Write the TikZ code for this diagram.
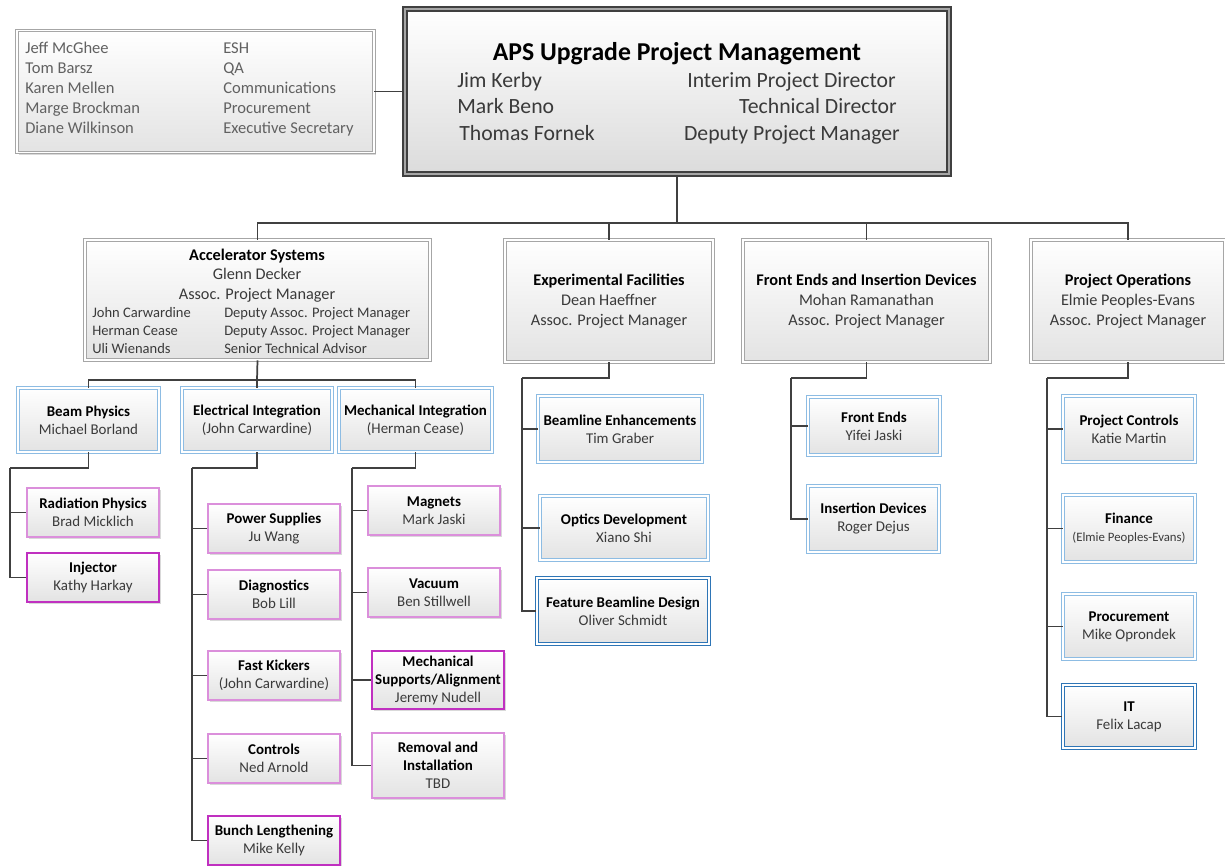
\documentclass[tikz,border=0pt]{standalone}
\usepackage{fontspec}
\setmainfont{Carlito}
\usepackage{xcolor}
\usepackage{tikz}
\usetikzlibrary{shadows}

\definecolor{linegray}{HTML}{404040}
\definecolor{boxgray}{HTML}{A6A6A6}
\definecolor{boxblue}{HTML}{8DBCE3}
\definecolor{deepblue}{HTML}{2E75B6}
\definecolor{boxpink}{HTML}{DB8FDB}
\definecolor{deeppink}{HTML}{C030C0}
\definecolor{txtgray}{HTML}{3A3A3A}

\newcommand{\boxhead}[1]{{\bfseries\color{black}#1}}

\tikzset{
  conn/.style={draw=linegray, line width=1.3pt},
  card/.style={top color=white, bottom color=black!11, inner sep=0pt, align=center, text=txtgray,
    font=\fontsize{11.2}{13.5}\selectfont,
    drop shadow={shadow xshift=1.5pt, shadow yshift=-1.5pt, fill=black, opacity=0.15}},
  graycard/.style={card, draw=boxgray, double=white, double distance=1.2pt, line width=0.6pt,
    font=\fontsize{12.2}{14.8}\selectfont},
  bluecard/.style={card, draw=boxblue, double=white, double distance=1.2pt, line width=0.7pt},
  deepbluecard/.style={card, draw=deepblue, double=white, double distance=1.2pt, line width=0.8pt},
  pinkcard/.style={card, draw=boxpink, line width=0.9pt},
  deeppinkcard/.style={card, draw=deeppink, line width=1.1pt},
  sz/.style 2 args={minimum width=#1*0.75pt, minimum height=#2*0.75pt},
  txt/.style={inner sep=0pt, text=txtgray},
}

\begin{document}
\begin{tikzpicture}[x=0.75pt, y=-0.75pt]

% background and page size
\fill[white] (0,0) rectangle (1225,865);
\useasboundingbox (0,0) rectangle (1225,865);

% Top level
\node[card, sz={544}{165}, draw=black!75, double=black!35, double distance=1.2pt, line width=1.3pt,
  bottom color=black!14] (apm) at (677,91.5) {};
\node[txt, anchor=base, text=black, font=\fontsize{19.3}{22}\selectfont\bfseries] (apmT) at (677,60.5) {APS Upgrade Project Management};
\node[txt, anchor=base west, font=\fontsize{16.3}{18}\selectfont] (kerby) at (457,87) {Jim Kerby};
\node[txt, anchor=base west, font=\fontsize{16.3}{18}\selectfont] (beno) at (457,113) {Mark Beno};
\node[txt, anchor=base west, font=\fontsize{16.3}{18}\selectfont] (fornek) at (459,140) {Thomas Fornek};
\node[txt, anchor=base east, font=\fontsize{16.3}{18}\selectfont] (kerbyR) at (896,87) {Interim Project Director};
\node[txt, anchor=base east, font=\fontsize{16.3}{18}\selectfont] (benoR) at (897,113) {Technical Director};
\node[txt, anchor=base east, font=\fontsize{16.3}{18}\selectfont] (fornekR) at (900,140) {Deputy Project Manager};

% Staff box
\node[graycard, sz={357}{122}] (staff) at (195.5,91.5) {};
\foreach \who/\role [count=\i] in {Jeff McGhee/ESH, Tom Barsz/QA, Karen Mellen/Communications,
    Marge Brockman/Procurement, Diane Wilkinson/Executive Secretary}{
  \node[txt, text=black!62, anchor=base west, font=\fontsize{12.4}{13}\selectfont] (staffN\i) at (25,33.5+20*\i) {\who};
  \node[txt, text=black!62, anchor=base west, font=\fontsize{12.4}{13}\selectfont] (staffR\i) at (223,33.5+20*\i) {\role};
}
\draw[conn] (staff) -- (apm);

% Level 1
\node[graycard, sz={345}{120}] (acc) at (257.5,300) {};
\node[txt, anchor=base, font=\fontsize{12.2}{13}\selectfont] (accT) at (257,260.5) {\boxhead{Accelerator Systems}};
\node[txt, anchor=base, font=\fontsize{12.2}{13}\selectfont] (accN) at (257,279.5) {Glenn Decker};
\node[txt, anchor=base, font=\fontsize{12.2}{13}\selectfont] (accR) at (257,299.5) {Assoc. Project Manager};
\foreach \who/\role [count=\i] in {John Carwardine/Deputy Assoc. Project Manager,
    Herman Cease/Deputy Assoc. Project Manager, Uli Wienands/Senior Technical Advisor}{
  \node[txt, anchor=base west, font=\fontsize{10.9}{12}\selectfont] (accDN\i) at (92,299+18*\i) {\who};
  \node[txt, anchor=base west, font=\fontsize{10.9}{12}\selectfont] (accDR\i) at (224,299+18*\i) {\role};
}

\node[graycard, sz={208}{122}] (exp) at (609,301) {\boxhead{Experimental Facilities}\\Dean Haeffner\\Assoc. Project Manager};
\node[graycard, sz={247}{122}] (fe) at (866.5,301) {\boxhead{Front Ends and Insertion Devices}\\Mohan Ramanathan\\Assoc. Project Manager};
\node[graycard, sz={194}{122}] (ops) at (1128,301) {\boxhead{Project Operations}\\Elmie Peoples-Evans\\Assoc. Project Manager};

\coordinate (mainB) at (677,223);
\draw[conn] (apm.south) -- (mainB);
\draw[conn] (mainB) -| (acc.north);
\draw[conn] (mainB) -| (exp.north);
\draw[conn] (mainB) -| (fe.north);
\draw[conn] (mainB) -| (ops.north);

% Accelerator Systems groups
\node[bluecard, sz={141}{64}] (bp) at (88.5,420) {\boxhead{Beam Physics}\\Michael Borland};
\node[bluecard, sz={150}{64}] (ei) at (257,420) {\boxhead{Electrical Integration}\\(John Carwardine)};
\node[bluecard, sz={153}{64}] (mi) at (415.5,420) {\boxhead{Mechanical Integration}\\(Herman Cease)};

\coordinate (accB) at (257,380);
\draw[conn] (acc.south) -- (accB);
\draw[conn] (accB) -| (bp.north);
\draw[conn] (accB) -| (mi.north);
\draw[conn] (accB) -- (ei.north);

% Beam Physics
\node[pinkcard, sz={132}{49}] (rp) at (93,512.5) {\boxhead{Radiation Physics}\\Brad Micklich};
\node[deeppinkcard, sz={132}{49}] (inj) at (93,577.5) {\boxhead{Injector}\\Kathy Harkay};
\coordinate (bpT) at (10,468);
\draw[conn] (bp.south) |- (bpT);
\draw[conn] (bpT) |- (rp.west);
\draw[conn] (bpT) |- (inj.west);

% Electrical Integration
\node[pinkcard, sz={132}{49}] (ps) at (274,528.5) {\boxhead{Power Supplies}\\Ju Wang};
\node[pinkcard, sz={132}{49}] (dg) at (274,594.5) {\boxhead{Diagnostics}\\Bob Lill};
\node[pinkcard, sz={132}{49}] (fk) at (274,675.5) {\boxhead{Fast Kickers}\\(John Carwardine)};
\node[pinkcard, sz={132}{49}] (ctl) at (274,758.5) {\boxhead{Controls}\\Ned Arnold};
\node[deeppinkcard, sz={132}{49}] (bl) at (274,840.5) {\boxhead{Bunch Lengthening}\\Mike Kelly};
\coordinate (eiT) at (192,468);
\draw[conn] (ei.south) |- (eiT);
\draw[conn] (eiT) |- (ps.west);
\draw[conn] (eiT) |- (dg.west);
\draw[conn] (eiT) |- (fk.west);
\draw[conn] (eiT) |- (ctl.west);
\draw[conn] (eiT) |- (bl.west);

% Mechanical Integration
\node[pinkcard, sz={132}{49}] (mag) at (434,510.5) {\boxhead{Magnets}\\Mark Jaski};
\node[pinkcard, sz={132}{49}] (vac) at (434,592.5) {\boxhead{Vacuum}\\Ben Stillwell};
\node[deeppinkcard, sz={132}{58}] (msa) at (438,680) {\boxhead{Mechanical}\\\boxhead{Supports/Alignment}\\Jeremy Nudell};
\node[pinkcard, sz={132}{65}] (ri) at (438,765.5) {\boxhead{Removal and}\\\boxhead{Installation}\\TBD};
\coordinate (miT) at (352,468);
\draw[conn] (mi.south) |- (miT);
\draw[conn] (miT) |- (mag.west);
\draw[conn] (miT) |- (vac.west);
\draw[conn] (miT) |- (msa.west);
\draw[conn] (miT) |- (ri.west);

% Experimental Facilities
\node[bluecard, sz={164}{66}] (be) at (620,429) {\boxhead{Beamline Enhancements}\\Tim Graber};
\node[bluecard, sz={168}{64}] (od) at (624,528) {\boxhead{Optics Development}\\Xiano Shi};
\node[deepbluecard, sz={172}{66}] (fbd) at (623,611) {\boxhead{Feature Beamline Design}\\Oliver Schmidt};
\coordinate (expT) at (522,378);
\draw[conn] (exp.south) |- (expT);
\draw[conn] (expT) |- (be.west);
\draw[conn] (expT) |- (od.west);
\draw[conn] (expT) |- (fbd.west);

% Front Ends and Insertion Devices
\node[bluecard, sz={132}{58}] (fen) at (874,426) {\boxhead{Front Ends}\\Yifei Jaski};
\node[bluecard, sz={131}{66}] (idv) at (873.5,519) {\boxhead{Insertion Devices}\\Roger Dejus};
\coordinate (feT) at (791,378);
\draw[conn] (fe.south) |- (feT);
\draw[conn] (feT) |- (fen.west);
\draw[conn] (feT) |- (idv.west);

% Project Operations
\node[bluecard, sz={132}{66}] (pc) at (1129,429) {\boxhead{Project Controls}\\Katie Martin};
\node[bluecard, sz={132}{67}] (fin) at (1129,528.5) {\boxhead{Finance}\\{\fontsize{9.6}{12}\selectfont(Elmie Peoples-Evans)}};
\node[bluecard, sz={132}{65}] (proc) at (1129,626.5) {\boxhead{Procurement}\\Mike Oprondek};
\node[deepbluecard, sz={132}{63}] (it) at (1129,716.5) {\boxhead{IT}\\Felix Lacap};
\coordinate (opsT) at (1047,378);
\draw[conn] (ops.south) |- (opsT);
\draw[conn] (opsT) |- (pc.west);
\draw[conn] (opsT) |- (fin.west);
\draw[conn] (opsT) |- (proc.west);
\draw[conn] (opsT) |- (it.west);

\end{tikzpicture}
\end{document}
